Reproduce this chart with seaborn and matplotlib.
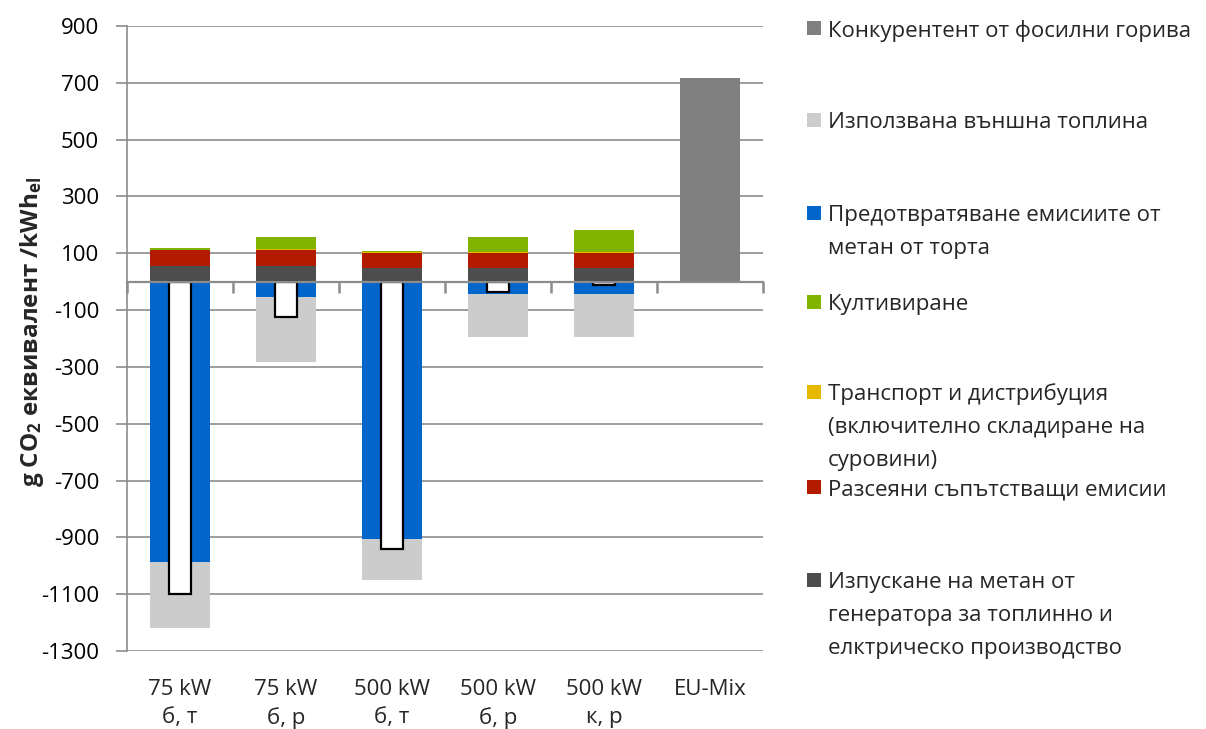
import matplotlib
matplotlib.use("Agg")
import matplotlib.pyplot as plt
import matplotlib.patches as mpatches
import numpy as np
import pandas as pd
import seaborn as sns

# Plant variants (size, feedstock, heat use) and the fossil EU mix reference
categories = ["75 kW\nб, т", "75 kW\nб, р", "500 kW\nб, т", "500 kW\nб, р", "500 kW\nк, р", "EU-Mix"]

# Emission contributions, g CO2-eq per kWh_el
methane_leak = [54, 54, 49, 49, 49, 0]        # methane slip from the CHP unit
diffuse      = [56, 56, 53, 53, 53, 0]        # diffuse accompanying emissions
transport    = [1, 5, 1, 4, 3, 0]             # transport and distribution
cultivation  = [8, 41, 6, 52, 76, 0]          # cultivation
avoided_ch4  = [-988, -53, -905, -43, -43, 0] # avoided methane emissions from manure
ext_heat     = [-231, -228, -146, -150, -150, 0]  # credit for external heat use
fossil       = [0, 0, 0, 0, 0, 716]           # fossil competitor
net_total    = [-1100, -125, -942, -35, -12]  # net balance of each plant

labels = {
    "fossil": "Конкурентент от фосилни горива",
    "heat": "Използвана външна топлина",
    "avoided": "Предотвратяване емисиите от\nметан от торта",
    "cult": "Култивиране",
    "transport": "Транспорт и дистрибуция\n(включително складиране на\nсуровини)",
    "diffuse": "Разсеяни съпътстващи емисии",
    "leak": "Изпускане на метан от\nгенератора за топлинно и\nелктрическо производство",
}
colors = {
    "fossil": "#808080",
    "heat": "#cccccc",
    "avoided": "#0066cc",
    "cult": "#80b300",
    "transport": "#e6b800",
    "diffuse": "#b31b00",
    "leak": "#4d4d4d",
}

sns.set_theme(style="white")
plt.rcParams["font.family"] = ["Open Sans", "DejaVu Sans"]
plt.rcParams["mathtext.fontset"] = "custom"
plt.rcParams["mathtext.rm"] = "Open Sans"
plt.rcParams["mathtext.bf"] = "Open Sans:bold"
plt.rcParams["mathtext.default"] = "bf"

FS = 16

fig = plt.figure(figsize=(12.06, 7.29), dpi=100)
ax = fig.add_axes([127 / 1206, 1 - 651 / 729, 636 / 1206, 625 / 729])

df = pd.DataFrame({
    "cat": categories,
    "leak": methane_leak,
    "diffuse": diffuse,
    "transport": transport,
    "cult": cultivation,
    "avoided": avoided_ch4,
    "heat": ext_heat,
    "fossil": fossil,
})

bar_w = 0.57
# positive contributions stacked upward from zero
bottom = np.zeros(len(df))
for key in ["leak", "diffuse", "transport", "cult", "fossil"]:
    sns.barplot(data=df, x="cat", y=key, order=categories, bottom=bottom,
                color=colors[key], width=bar_w, linewidth=0, saturation=1,
                errorbar=None, ax=ax)
    bottom = bottom + df[key].to_numpy()

# negative credits stacked downward from zero
bottom = np.zeros(len(df))
for key in ["avoided", "heat"]:
    sns.barplot(data=df, x="cat", y=key, order=categories, bottom=bottom,
                color=colors[key], width=bar_w, linewidth=0, saturation=1,
                errorbar=None, ax=ax)
    bottom = bottom + df[key].to_numpy()

# net balance as a narrow outlined bar
net_df = pd.DataFrame({"cat": categories[:5], "net": net_total})
sns.barplot(data=net_df, x="cat", y="net", order=categories, color="white",
            width=0.2, edgecolor="black", linewidth=1.6, saturation=1,
            errorbar=None, ax=ax)
for p in ax.patches[-5:]:
    p.set_facecolor("white")

grid_c = "#8c8c8c"
ax.set_ylim(-1300, 900)
ax.set_xlim(-0.5, 5.5)
yt = np.arange(-1300, 901, 200)
ax.set_yticks(yt)
ax.set_yticklabels([str(v) for v in yt], fontsize=FS, color="#000000")
ax.yaxis.grid(True, color=grid_c, linewidth=1.2)
ax.set_axisbelow(True)
ax.tick_params(axis="y", which="major", direction="out", length=8, width=1.2,
               color=grid_c, left=True, pad=12)

for s in ["top", "right"]:
    ax.spines[s].set_visible(False)
ax.spines["left"].set_color(grid_c)
ax.spines["left"].set_linewidth(1.2)
# category axis line runs through zero with ticks between the groups
ax.spines["bottom"].set_position(("data", 0))
ax.spines["bottom"].set_color(grid_c)
ax.spines["bottom"].set_linewidth(1.6)
ax.spines["bottom"].set_zorder(3)
ax.set_xticks(np.arange(-0.5, 5.6, 1.0))
ax.set_xticklabels([])
ax.tick_params(axis="x", direction="out", length=8, width=1.8, color=grid_c, bottom=True)
ax.xaxis.set_zorder(3)
ax.set_xlabel("")

# category names sit below the plot area
sec = ax.secondary_xaxis("bottom")
sec.set_xticks(range(len(categories)))
sec.set_xticklabels(categories, fontsize=FS, linespacing=1.45)
sec.tick_params(length=0, pad=20)
sec.spines["bottom"].set_visible(False)

ax.set_ylabel(r"g CO$_2$ еквивалент /kWh$_{el}$", fontsize=17.5, fontweight="bold")
ax.yaxis.set_label_coords(-0.128, 0.51)

# legend entries, each aligned by its first line
legend_order = ["fossil", "heat", "avoided", "cult", "transport", "diffuse", "leak"]
first_line_y = [28, 120, 213, 302, 392, 487, 580]
for key, ypx in zip(legend_order, first_line_y):
    yf = 1 - ypx / 729
    fig.patches.append(mpatches.Rectangle((807 / 1206, yf - 7 / 729), 14 / 1206, 14 / 729,
                                          transform=fig.transFigure, facecolor=colors[key],
                                          edgecolor="none"))
    fig.text(828 / 1206, yf, labels[key].split("\n")[0], fontsize=FS, va="center_baseline",
             ha="left")
    # continuation lines at a fixed pitch
    for i, line in enumerate(labels[key].split("\n")[1:], start=1):
        fig.text(828 / 1206, yf - 33 * i / 729, line, fontsize=FS, va="center_baseline",
                 ha="left")

fig.savefig("out.png", dpi=100)
